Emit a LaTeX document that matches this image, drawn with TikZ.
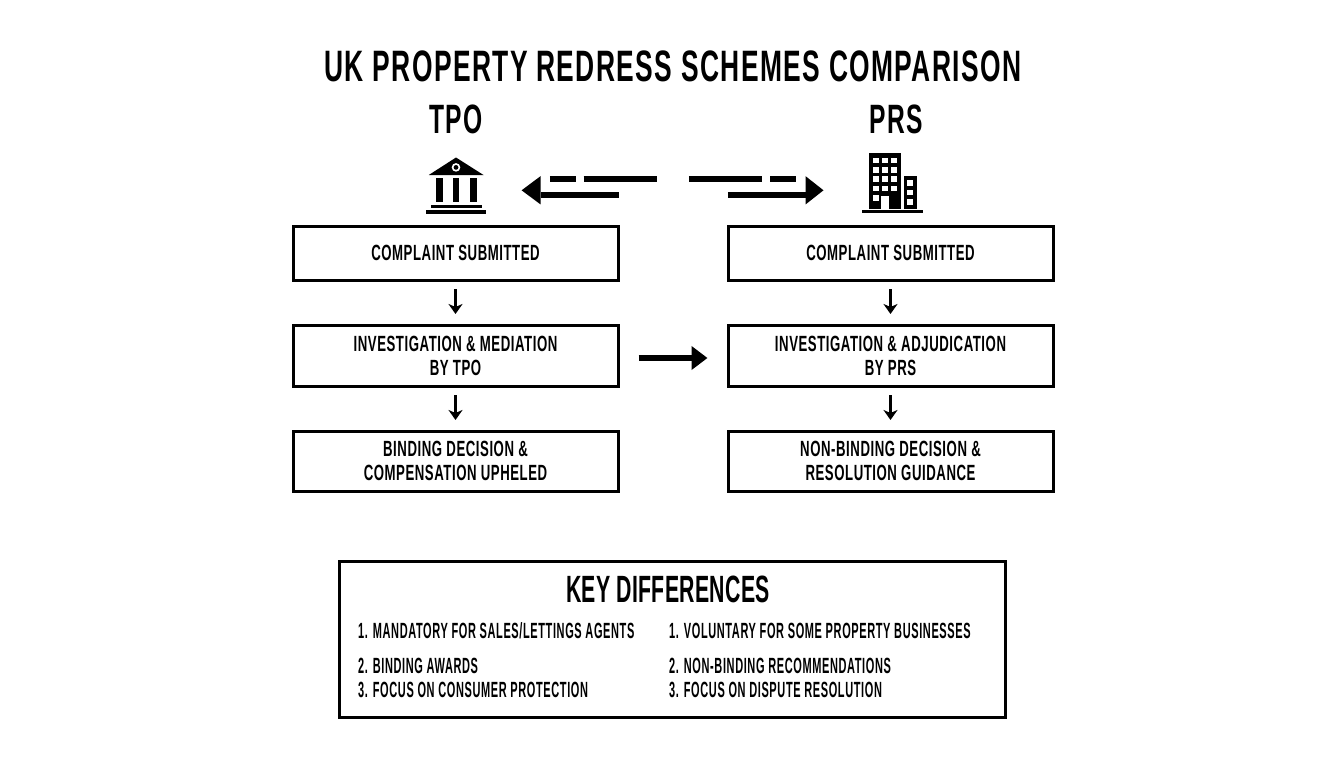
\documentclass[tikz,border=0pt]{standalone}
\usepackage{fontspec}
\setmainfont[FakeStretch=0.6,LetterSpace=2.5]{Liberation Sans Bold}
\newfontface\titlefont[FakeStretch=0.6,LetterSpace=3.2]{Liberation Sans Bold}
\newfontface\keyfont[FakeStretch=0.56,LetterSpace=0.8]{Liberation Sans Bold}
\newfontface\listfont[FakeStretch=0.5,LetterSpace=2.8]{Liberation Sans Bold}
\usetikzlibrary{arrows.meta}
\tikzset{
  x=1pt,y=-1pt,
  stepbox/.style={draw=black,line width=3pt,fill=white,minimum width=325pt,align=center,inner sep=0pt,
    font=\fontsize{22}{24}\selectfont},
  heading/.style={inner sep=0pt,font=\titlefont\fontsize{44}{44}\selectfont},
  colhead/.style={inner sep=0pt,font=\titlefont\fontsize{41}{41}\selectfont},
  listitem/.style={inner sep=0pt,anchor=base west,font=\listfont\fontsize{22}{24}\selectfont},
  downflow/.style={draw=black,line width=2.5pt,shorten <=7.5pt,shorten >=9.5pt,-{Stealth[length=10pt,width=14pt,inset=3pt]}},
  crossflow/.style={draw=black,line width=5.5pt,shorten <=19pt,shorten >=19pt,-{Triangle[length=16pt,width=23pt,fill=black]}},
  refline/.style={draw=black,line width=5.6pt},
}
\begin{document}
\begin{tikzpicture}
\useasboundingbox (0,0) rectangle (1344,768);
\fill[white] (0,0) rectangle (1344,768);
\node[heading] (title) at (673,66) {UK PROPERTY REDRESS SCHEMES COMPARISON};
\node[colhead] (tpohead) at (456,119) {TPO};
\node[colhead] (prshead) at (896,119) {PRS};
% bank icon
\fill (456,157.5) -- (483.5,175) -- (428.8,175) -- cycle;
\fill[white] (456,167.4) circle (4.3pt);
\fill (456,167.4) circle (2.4pt);
\fill (436,178) rectangle (443.2,202);
\fill (453,178) rectangle (459.4,202);
\fill (470,178) rectangle (476.8,202);
\fill (431,204.5) rectangle (481.8,208);
\fill (426,210) rectangle (486,213.5);
% building icon
\fill (868.5,153) rectangle (901.2,209);
\fill (904.2,176) rectangle (917.1,209);
\fill (862,209.5) rectangle (922.5,212.8);
\foreach \cx in {873.3,882.1,891.4}
  \foreach \cy in {157.6,166.8,176.2,185.5}
    \fill[white] (\cx,\cy) rectangle ++(5.5,5.7);
\fill[white] (873.3,195) rectangle ++(5.5,5.7);
\fill[white] (881.3,195.5) rectangle (889.3,209);
\foreach \cy in {180,189.6,199}
  \fill[white] (907,\cy) rectangle ++(5.7,5.8);
% top arrows
\coordinate (lshaft) at (618.7,195);
\coordinate (lbase) at (540.5,195);
\coordinate (rshaft) at (727.8,195);
\coordinate (rbase) at (805.6,195);
\draw[refline] (lshaft) -- (lbase);
\draw[refline] (rshaft) -- (rbase);
\fill (521.6,190.3) -- (540.5,176.2) -- (540.5,204.4) -- cycle;
\fill (823.5,190.3) -- (805.6,176.2) -- (805.6,204.4) -- cycle;
\draw[refline] (549.8,178.9) -- (575.6,178.9);
\draw[refline] (583.5,178.9) -- (656.9,178.9);
\draw[refline] (688.9,178.9) -- (762.3,178.9);
\draw[refline] (770.2,178.9) -- (796.4,178.9);
% flow boxes
\node[stepbox,minimum height=54pt] (a1) at (455.5,253) {COMPLAINT SUBMITTED};
\node[stepbox,minimum height=61pt] (a2) at (455.5,355.5) {INVESTIGATION \& MEDIATION\\BY TPO};
\node[stepbox,minimum height=60pt] (a3) at (455.5,461) {BINDING DECISION \&\\COMPENSATION UPHELED};
\node[stepbox,minimum height=54pt] (b1) at (890.5,253) {COMPLAINT SUBMITTED};
\node[stepbox,minimum height=61pt] (b2) at (890.5,355.5) {INVESTIGATION \& ADJUDICATION\\BY PRS};
\node[stepbox,minimum height=60pt] (b3) at (890.5,461) {NON-BINDING DECISION \&\\RESOLUTION GUIDANCE};
\draw[downflow] (a1) -- (a2);
\draw[downflow] (a2) -- (a3);
\draw[downflow] (b1) -- (b2);
\draw[downflow] (b2) -- (b3);
\draw[crossflow] (a2.east |- 0,358) -- (b2.west |- 0,358);
% key box
\node[draw=black,line width=3pt,minimum width=666pt,minimum height=156pt,inner sep=0pt] (key) at (672,639) {};
\node[heading,font=\keyfont\fontsize{38}{38}\selectfont] (keyhead) at (668,589) {KEY DIFFERENCES};
\node[listitem] (l1) at (358,638) {1. MANDATORY FOR SALES/LETTINGS AGENTS};
\node[listitem] (l2) at (358,673.5) {2. BINDING AWARDS};
\node[listitem] (l3) at (358,697) {3. FOCUS ON CONSUMER PROTECTION};
\node[listitem] (r1) at (669,638) {1. VOLUNTARY FOR SOME PROPERTY BUSINESSES};
\node[listitem] (r2) at (669,673.5) {2. NON-BINDING RECOMMENDATIONS};
\node[listitem] (r3) at (669,697) {3. FOCUS ON DISPUTE RESOLUTION};
\end{tikzpicture}
\end{document}
